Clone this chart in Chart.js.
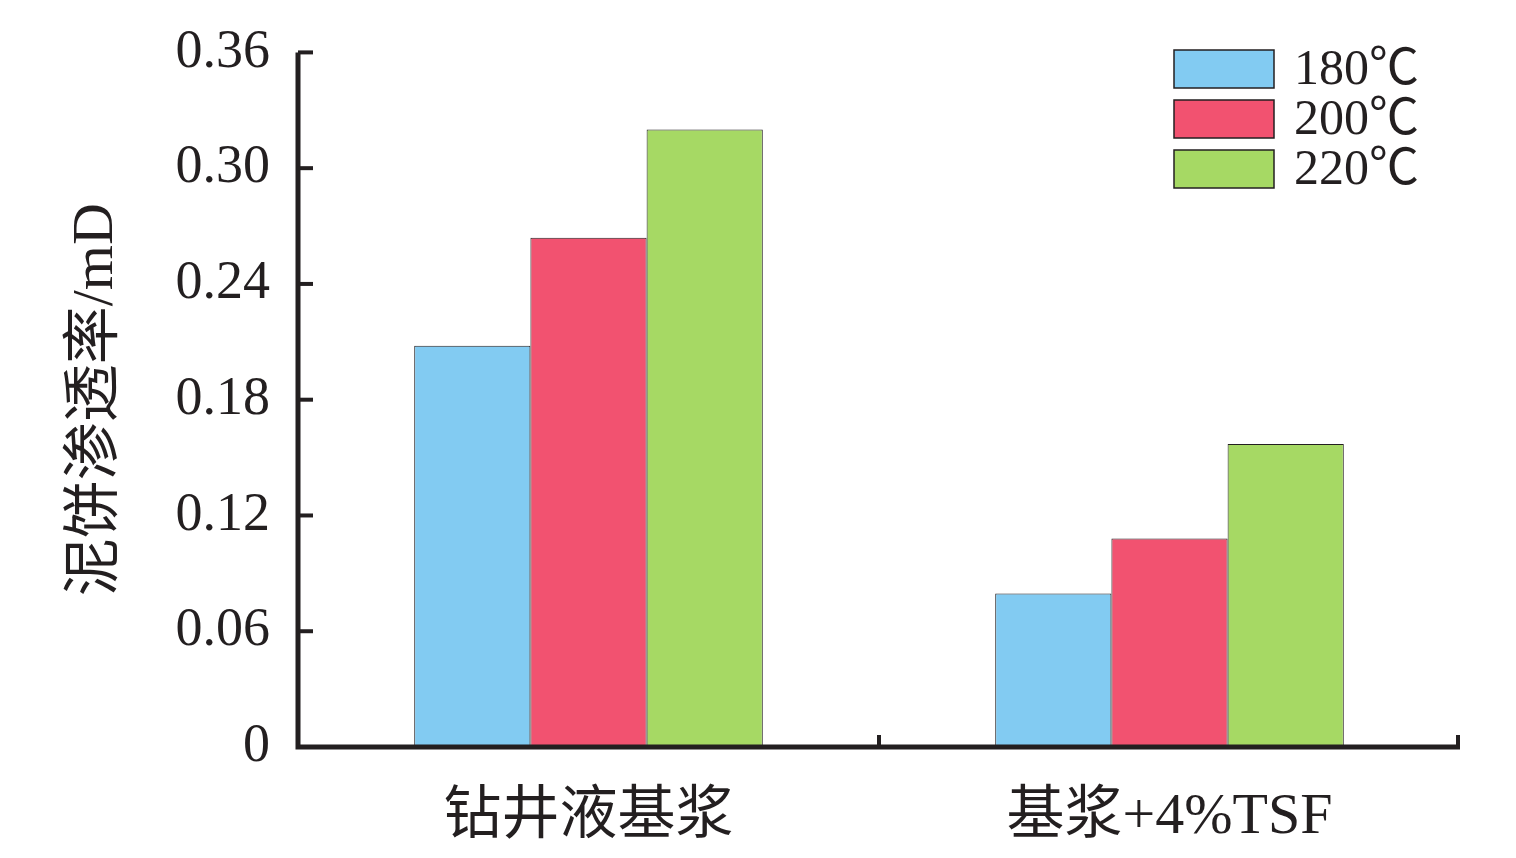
<!DOCTYPE html>
<html>
<head>
<meta charset="utf-8">
<script src="https://cdn.jsdelivr.net/npm/chart.js@4"></script>
<style>
  html, body { margin: 0; padding: 0; background: #fff; }
  #wrap { width: 1516px; height: 858px; position: relative; }
</style>
</head>
<body>
<div id="wrap"><canvas id="chart"></canvas></div>
<script>
const categories = ['钻井液基浆', '基浆+4%TSF'];
const seriesLabels = ['180℃', '200℃', '220℃'];
const values180 = [0.208, 0.0795];
const values200 = [0.264, 0.108];
const values220 = [0.320, 0.157];
const yTicks = [0, 0.06, 0.12, 0.18, 0.24, 0.30, 0.36];

const colors = ['#82CBF2', '#F25270', '#A6D964'];
const ink = '#231f20';
const serif = '"Liberation Serif", "Times New Roman", "Noto Sans CJK SC", serif';
const cjk = '"Liberation Serif", "Noto Sans CJK SC", serif';

// axes, inward ticks and legend drawn by hand
const axisPlugin = {
    id: 'axisPlugin',
    afterDatasetsDraw(chart) {
        const { ctx, chartArea: a, scales: { x, y } } = chart;
        ctx.save();
        ctx.strokeStyle = ink;
        ctx.lineWidth = 5;
        ctx.beginPath();
        ctx.moveTo(a.left, a.top);
        ctx.lineTo(a.left, a.bottom);
        ctx.lineTo(a.right, a.bottom);
        ctx.stroke();
        ctx.lineWidth = 4;
        yTicks.forEach(v => {
            const py = y.getPixelForValue(v);
            ctx.beginPath();
            ctx.moveTo(a.left, py);
            ctx.lineTo(a.left + 15, py);
            ctx.stroke();
        });
        const step = (a.right - a.left) / categories.length;
        for (let i = 1; i <= categories.length; i++) {
            const px = Math.min(a.left + step * i, a.right - 2);
            ctx.beginPath();
            ctx.moveTo(px, a.bottom);
            ctx.lineTo(px, a.bottom - 12);
            ctx.stroke();
        }
        // legend
        ctx.font = '50px ' + serif;
        ctx.textBaseline = 'middle';
        ctx.textAlign = 'left';
        chart.data.datasets.forEach((ds, i) => {
            const top = 50 + i * 50;
            ctx.fillStyle = ds.backgroundColor;
            ctx.fillRect(1174, top, 100, 38);
            ctx.lineWidth = 1.5;
            ctx.strokeStyle = ink;
            ctx.strokeRect(1174, top, 100, 38);
            ctx.fillStyle = ink;
            ctx.fillText(ds.label, 1294, top + 21);
        });
        ctx.restore();
    }
};

new Chart(document.getElementById('chart'), {
    type: 'bar',
    data: {
        labels: categories,
        datasets: [
            { label: seriesLabels[0], data: values180, backgroundColor: colors[0] },
            { label: seriesLabels[1], data: values200, backgroundColor: colors[1] },
            { label: seriesLabels[2], data: values220, backgroundColor: colors[2] }
        ].map(d => ({ ...d, borderColor: ink, borderWidth: 1, borderSkipped: 'bottom', categoryPercentage: 0.6, barPercentage: 1 }))
    },
    options: {
        responsive: true,
        maintainAspectRatio: false,
        animation: false,
        layout: { padding: { top: 47, right: 56, left: 0, bottom: 0 } },
        plugins: { legend: { display: false }, tooltip: { enabled: false } },
        scales: {
            x: {
                grid: { display: false },
                border: { display: false },
                ticks: { color: ink, font: { family: cjk, size: 58 }, padding: 28 },
                afterFit: s => { s.height = 111; }
            },
            y: {
                min: 0, max: 0.36,
                afterBuildTicks: s => { s.ticks = yTicks.map(v => ({ value: v })); },
                grid: { display: false },
                border: { display: false },
                ticks: {
                    color: ink,
                    font: { family: serif, size: 54 },
                    padding: 20,
                    callback: v => v === 0 ? '0' : v.toFixed(2)
                },
                title: {
                    display: true,
                    text: '泥饼渗透率/mD',
                    color: ink,
                    font: { family: cjk, size: 58 },
                    padding: { top: 62, bottom: 0 }
                },
                afterFit: s => { s.width = 298; }
            }
        }
    },
    plugins: [axisPlugin]
});
</script>
</body>
</html>
